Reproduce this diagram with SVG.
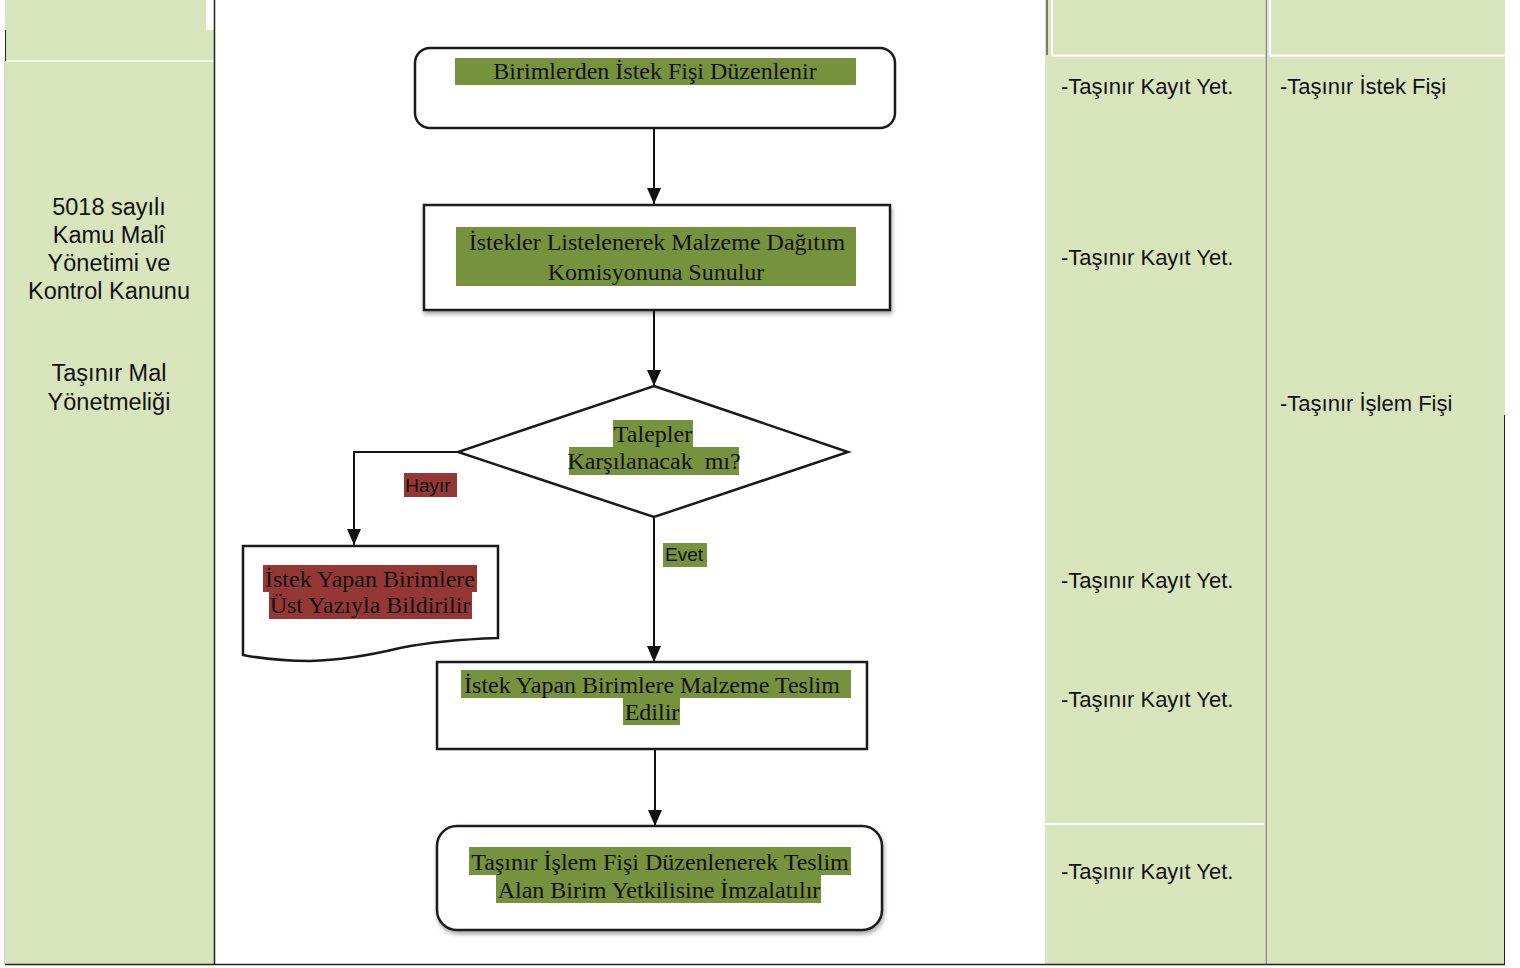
<svg xmlns="http://www.w3.org/2000/svg" width="1520" height="968" viewBox="0 0 1520 968">
<defs>
<style>
.col{fill:#D8E4BC}
.side{font-family:"Liberation Sans",Arial,sans-serif;font-size:22px;fill:#111}
.left{font-family:"Liberation Sans",Arial,sans-serif;font-size:23.5px;fill:#111;text-anchor:middle}
.flow{font-family:"Liberation Serif","Times New Roman",serif;font-size:24px;fill:#111;text-anchor:middle}
.lab{font-family:"Liberation Sans",Arial,sans-serif;font-size:19px;fill:#111;text-anchor:middle}
.hg{fill:#76923C}
.hr{fill:#953735}
.node{fill:#fff;stroke:#1a1a1a;stroke-width:2.5}
.conn{fill:none;stroke:#111;stroke-width:2}
</style>
<marker id="arr" viewBox="0 0 16 14" refX="16" refY="7" markerWidth="16" markerHeight="14" markerUnits="userSpaceOnUse" orient="auto">
<path d="M0,0 L16,7 L0,14 z" fill="#111"/>
</marker>
<filter id="sh" x="-5%" y="-5%" width="112%" height="120%">
<feDropShadow dx="1" dy="3" stdDeviation="2" flood-color="#000" flood-opacity="0.35"/>
</filter>
</defs>
<rect width="1520" height="968" fill="#fff"/>
<g id="table">
<rect class="col" x="5" y="0" width="209" height="964"/>
<rect x="206" y="0" width="8" height="30" fill="#fff"/>
<line x1="5" y1="61" x2="214" y2="61" stroke="#fff" stroke-width="1.5"/>
<line x1="5.5" y1="30" x2="5.5" y2="61" stroke="#222" stroke-width="1"/>
<line x1="4.5" y1="61" x2="4.5" y2="964" stroke="#ccc" stroke-width="1"/>
<line x1="214.5" y1="0" x2="214.5" y2="965" stroke="#222" stroke-width="1.5"/>
<rect class="col" x="1045" y="0" width="221" height="964"/>
<rect class="col" x="1268" y="0" width="237" height="964"/>
<line x1="1052" y1="55.5" x2="1265" y2="55.5" stroke="#fff" stroke-width="2"/>
<line x1="1270" y1="55.5" x2="1505" y2="55.5" stroke="#fff" stroke-width="2"/>
<line x1="1052" y1="0" x2="1052" y2="55" stroke="#fff" stroke-width="2"/>
<line x1="1270" y1="0" x2="1270" y2="55" stroke="#fff" stroke-width="2"/>
<line x1="1047" y1="0" x2="1047" y2="55" stroke="#333" stroke-width="1.2"/>
<line x1="1266.5" y1="0" x2="1266.5" y2="964" stroke="#888" stroke-width="1.5"/>
<line x1="1046" y1="824" x2="1264" y2="824" stroke="#fff" stroke-width="2"/>
<line x1="1504.5" y1="415" x2="1504.5" y2="964" stroke="#222" stroke-width="1"/>
<line x1="5" y1="964.5" x2="1505" y2="964.5" stroke="#222" stroke-width="1.5"/>
<text class="left"><tspan x="109" y="215">5018 sayılı</tspan><tspan x="109" y="243">Kamu Malî</tspan><tspan x="109" y="271">Yönetimi ve</tspan><tspan x="109" y="299">Kontrol Kanunu</tspan><tspan x="109" y="381">Taşınır Mal</tspan><tspan x="109" y="410">Yönetmeliği</tspan></text>
<text class="side" x="1061" y="94">-Taşınır Kayıt Yet.</text>
<text class="side" x="1061" y="265">-Taşınır Kayıt Yet.</text>
<text class="side" x="1061" y="588">-Taşınır Kayıt Yet.</text>
<text class="side" x="1061" y="707">-Taşınır Kayıt Yet.</text>
<text class="side" x="1061" y="879">-Taşınır Kayıt Yet.</text>
<text class="side" x="1280" y="94">-Taşınır İstek Fişi</text>
<text class="side" x="1280" y="411">-Taşınır İşlem Fişi</text>
</g>
<g id="connectors">
<line class="conn" x1="654" y1="129" x2="654" y2="204" marker-end="url(#arr)"/>
<line class="conn" x1="654" y1="311" x2="654" y2="386" marker-end="url(#arr)"/>
<polyline class="conn" points="458,452 354,452 354,545" marker-end="url(#arr)"/>
<line class="conn" x1="654" y1="517" x2="654" y2="662" marker-end="url(#arr)"/>
<line class="conn" x1="655" y1="750" x2="655" y2="826" marker-end="url(#arr)"/>
<g id="label-hayir"><rect class="hr" x="404" y="473" width="53" height="24"/><text class="lab" x="428" y="492">Hayır</text></g>
<g id="label-evet"><rect class="hg" x="663" y="543" width="44" height="24"/><text class="lab" x="684" y="561">Evet</text></g>
</g>
<g id="n1">
<rect class="node" x="415" y="48" width="480" height="80" rx="15"/>
<rect class="hg" x="455" y="58" width="401" height="27"/>
<text class="flow" x="655" y="79">Birimlerden İstek Fişi Düzenlenir</text>
</g>
<g id="n2">
<rect class="node" x="424" y="205" width="466" height="105" stroke-width="3" filter="url(#sh)"/>
<rect class="hg" x="456" y="227" width="400" height="59"/>
<text class="flow"><tspan x="657" y="250">İstekler Listelenerek Malzeme Dağıtım</tspan><tspan x="656" y="280">Komisyonuna Sunulur</tspan></text>
</g>
<g id="n3">
<polygon class="node" points="654,386 848,452 654,517 458,452" stroke-width="2"/>
<rect class="hg" x="613" y="420" width="80" height="27"/>
<rect class="hg" x="569" y="447" width="170" height="28"/>
<text class="flow"><tspan x="653" y="442">Talepler</tspan><tspan x="654" y="469">Karşılanacak&#160; mı?</tspan></text>
</g>
<g id="n4">
<path class="node" d="M243,546 L498,546 L498,638 Q440,640 400,648 Q350,660 310,661 Q275,661 243,655 Z" stroke-width="2"/>
<rect class="hr" x="263" y="565" width="214" height="27"/>
<rect class="hr" x="269" y="592" width="203" height="27"/>
<text class="flow"><tspan x="370" y="587">İstek Yapan Birimlere</tspan><tspan x="370" y="613">Üst Yazıyla Bildirilir</tspan></text>
</g>
<g id="n5">
<rect class="node" x="437" y="662" width="430" height="87" stroke-width="2"/>
<rect class="hg" x="461" y="670" width="390" height="28"/>
<rect class="hg" x="623" y="698" width="57" height="27"/>
<text class="flow"><tspan x="652" y="693">İstek Yapan Birimlere Malzeme Teslim</tspan><tspan x="652" y="720">Edilir</tspan></text>
</g>
<g id="n6">
<rect class="node" x="437" y="826" width="445" height="104" rx="20" stroke-width="2" filter="url(#sh)"/>
<rect class="hg" x="469" y="847" width="382" height="28"/>
<rect class="hg" x="496" y="875" width="325" height="28"/>
<text class="flow"><tspan x="660" y="870">Taşınır İşlem Fişi Düzenlenerek Teslim</tspan><tspan x="659" y="898">Alan Birim Yetkilisine İmzalatılır</tspan></text>
</g>
</svg>
